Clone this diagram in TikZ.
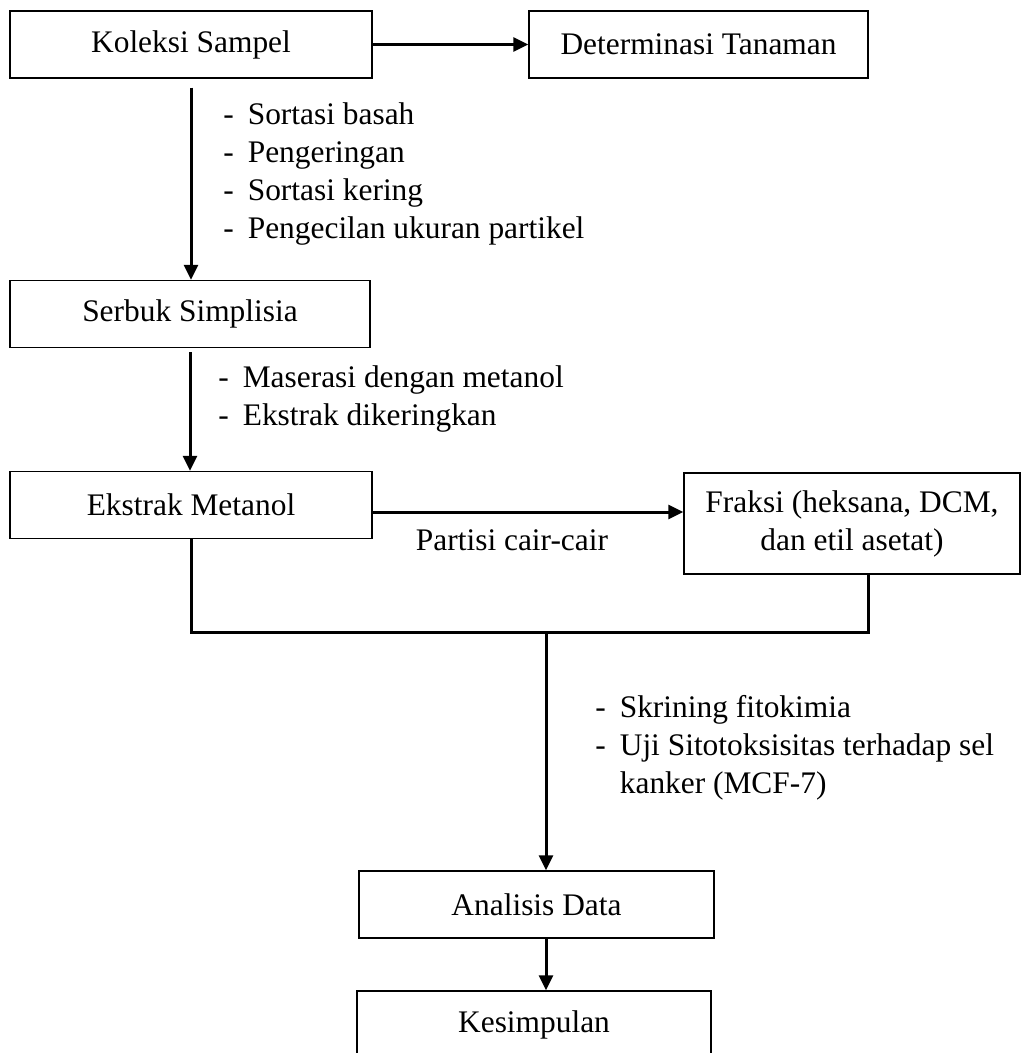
\documentclass[tikz,border=0pt]{standalone}
\usepackage{fontspec}
\setmainfont{Liberation Serif}
\usetikzlibrary{positioning,arrows.meta}

\begin{document}
\begin{tikzpicture}[x=0.5pt, y=-0.5pt,
  every node/.style={font=\fontsize{15.7}{19}\selectfont},
  box/.style={draw, line width=0.7pt, inner sep=0pt, minimum height=33.5pt, align=center},
  flow/.style={line width=1.5pt, -{Triangle[length=7.5pt,width=7pt]}},
  joint/.style={line width=1.5pt},
  steps/.style={inner sep=0pt, anchor=base west}]
  \useasboundingbox (0,0) rectangle (1022,1053);

  \node[box, minimum width=181pt] (koleksi) at (191,44.5) {Koleksi Sampel};
  \node[box, minimum width=169.5pt] (determinasi) at (698.5,44.5) {Determinasi Tanaman};
  \node[box, minimum width=180pt] (serbuk) at (190,314) {Serbuk Simplisia};
  \node[box, minimum width=181pt] (ekstrak) at (191,505) {Ekstrak Metanol};
  \node[box, minimum width=168pt, minimum height=50.5pt] (fraksi) at (852,523.5) {Fraksi (heksana, DCM,\\dan etil asetat)};
  \node[box, minimum width=177.5pt] (analisis) at (536.5,904.5) {Analisis Data};
  \node[box, minimum width=177pt] (kesimpulan) at (534,1024.5) {Kesimpulan};

  % steps beside the arrows
  \node[steps] (prep) at (223,125) {\begin{tabular}[t]{@{}l@{\hspace{7pt}}l@{}}
    - & Sortasi basah\\ - & Pengeringan\\ - & Sortasi kering\\ - & Pengecilan ukuran partikel\end{tabular}};
  \node[steps] (maserasi) at (218,387) {\begin{tabular}[t]{@{}l@{\hspace{7pt}}l@{}}
    - & Maserasi dengan metanol\\ - & Ekstrak dikeringkan\end{tabular}};
  \node[steps] (uji) at (595,717) {\begin{tabular}[t]{@{}l@{\hspace{7pt}}l@{}}
    - & Skrining fitokimia\\ - & Uji Sitotoksisitas terhadap sel\\ & kanker (MCF-7)\end{tabular}};
  \node[anchor=base, inner sep=0pt] (partisi) at (512,550) {Partisi cair-cair};

  \draw[flow] (koleksi) -- (determinasi);
  \draw[flow, shorten <=4.5pt] (koleksi.south) -- (koleksi.south |- serbuk.north);
  \draw[flow, shorten <=2pt] (serbuk.south) -- (serbuk.south |- ekstrak.north);
  \draw[flow] ([yshift=-3.5pt]ekstrak.east) -- ([yshift=-3.5pt]ekstrak.east -| fraksi.west);

  \coordinate (join) at (546,632);
  \coordinate (fraksiout) at ([xshift=8pt]fraksi.south);
  \draw[joint] (ekstrak.south) |- (join) -| (fraksiout);
  \draw[flow] (join) -- (join |- analisis.north);
  \draw[flow] (analisis.south -| join) -- (kesimpulan.north -| join);
\end{tikzpicture}
\end{document}
